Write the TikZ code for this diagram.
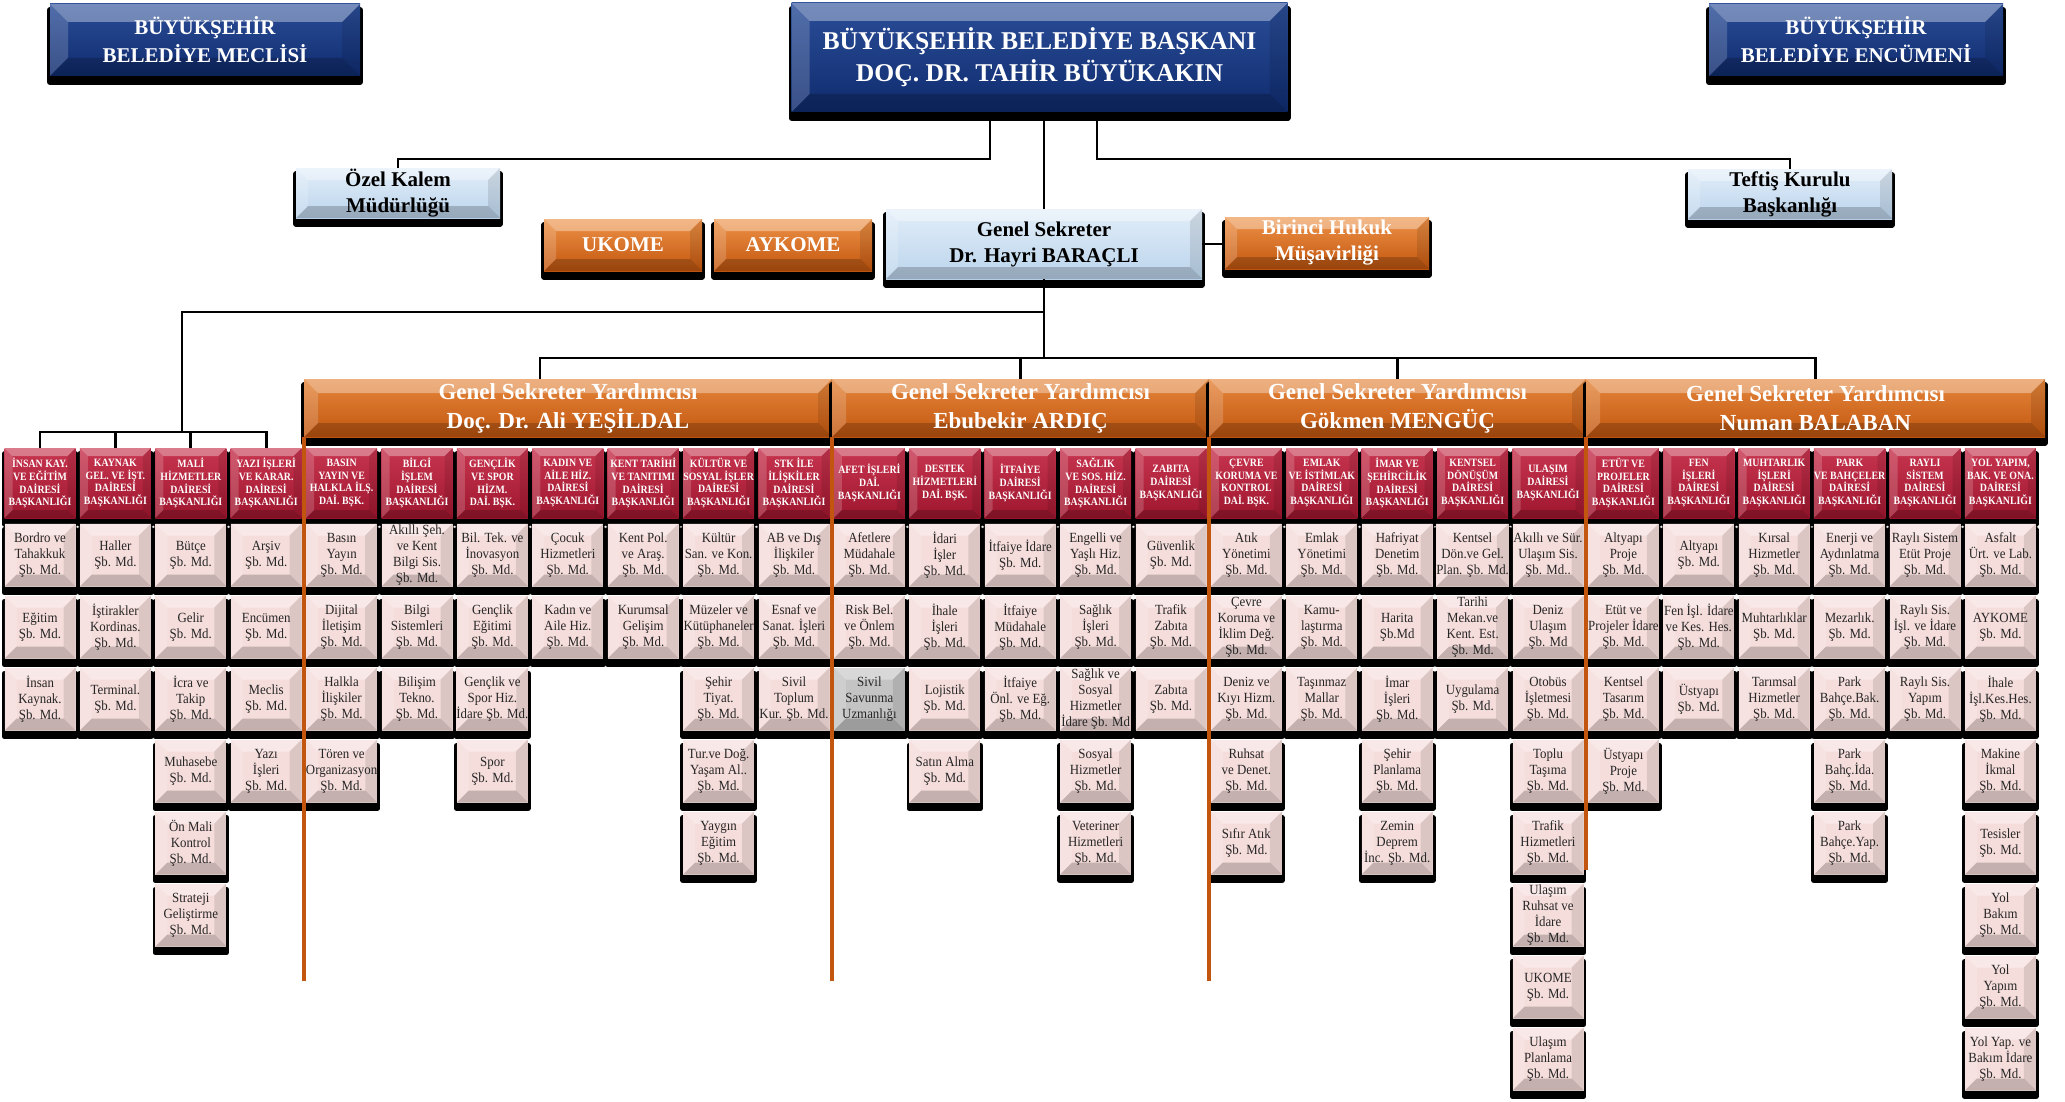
\documentclass[tikz,border=0pt]{standalone}
\usepackage{fontspec}
\setmainfont{Liberation Serif}
\newfontfamily\dairefont[FakeStretch=0.88]{Liberation Serif}
\newfontfamily\mdfont[FakeStretch=0.92]{Liberation Serif}

\definecolor{lacivert}{HTML}{0F2B6E}
\definecolor{lacivertacik}{HTML}{2B4E98}
\definecolor{turuncu}{HTML}{C2560F}
\definecolor{turuncuacik}{HTML}{EE9247}
\definecolor{mavi}{HTML}{BBD4EC}
\definecolor{maviacik}{HTML}{E2EEF9}
\definecolor{bordo}{HTML}{9E162E}
\definecolor{bordoacik}{HTML}{C8354F}
\definecolor{pembe}{HTML}{F5DDDB}
\definecolor{gri}{HTML}{C4C4C4}

\tikzset{
  kabartma/.style={path picture={
    \fill[white,opacity=.35] (path picture bounding box.north west) -- (path picture bounding box.north east)
      -- ([shift={(-#1,-#1)}]path picture bounding box.north east) -- ([shift={(#1,-#1)}]path picture bounding box.north west) -- cycle;
    \fill[white,opacity=.18] (path picture bounding box.north west) -- (path picture bounding box.south west)
      -- ([shift={(#1,#1)}]path picture bounding box.south west) -- ([shift={(#1,-#1)}]path picture bounding box.north west) -- cycle;
    \fill[black,opacity=.10] (path picture bounding box.north east) -- (path picture bounding box.south east)
      -- ([shift={(-#1,#1)}]path picture bounding box.south east) -- ([shift={(-#1,-#1)}]path picture bounding box.north east) -- cycle;
    \fill[black,opacity=.20] (path picture bounding box.south west) -- (path picture bounding box.south east)
      -- ([shift={(-#1,#1)}]path picture bounding box.south east) -- ([shift={(#1,#1)}]path picture bounding box.south west) -- cycle;
  }},
  golge/.style={preaction={draw=black,fill=black,line width=#1,line join=round,transform canvas={yshift=-3pt}}},
  ustkutu/.style={golge=3pt,kabartma=9pt,top color=lacivertacik,bottom color=lacivert,text=white,
    font=\bfseries\fontsize{10.5}{14}\selectfont,align=center,inner sep=0pt},
  mavikutu/.style={golge=2.6pt,kabartma=6pt,top color=maviacik,bottom color=mavi,text=black,
    font=\bfseries\fontsize{10.5}{13}\selectfont,align=center,inner sep=0pt,minimum width=102pt,minimum height=25pt},
  turkutu/.style={golge=2.6pt,kabartma=6pt,top color=turuncuacik,bottom color=turuncu,text=white,
    font=\bfseries\fontsize{10.5}{13}\selectfont,align=center,inner sep=0pt,minimum width=102pt,minimum height=26pt},
  yardimci/.style={golge=2.6pt,kabartma=7pt,top color=turuncuacik!80!turuncu,bottom color=turuncu,text=white,
    font=\bfseries\fontsize{11.5}{14.5}\selectfont,align=center,inner sep=0pt,minimum height=29pt},
  daire/.style={golge=2.8pt,kabartma=4pt,top color=bordoacik,bottom color=bordo,text=white,
    font=\dairefont\bfseries\fontsize{5.6}{6.4}\selectfont,align=center,inner sep=0pt,
    minimum width=35.5pt,minimum height=35pt,node distance=37.7pt},
  mudurluk/.style={golge=2.8pt,kabartma=6pt,fill=pembe,text=black!85,
    font=\mdfont\fontsize{7}{8}\selectfont,align=center,inner sep=0pt,
    minimum width=35.5pt,minimum height=31.5pt},
  grimudurluk/.style={mudurluk,fill=gri}
}

\begin{document}
\begin{tikzpicture}[x=0.5pt,y=-0.5pt,node distance=36pt,
    conn/.style={draw=black,line width=1.4pt},
    turuncucizgi/.style={draw=turuncu,line width=2pt}]
  \useasboundingbox (0,0) rectangle (2065,1102);

  % ust kademe
  \node[ustkutu,minimum width=155pt,minimum height=36pt] (meclis) at (205,40) {BÜYÜKŞEHİR\\BELEDİYE MECLİSİ};
  \node[ustkutu,font=\bfseries\fontsize{12.8}{16}\selectfont,minimum width=248pt,minimum height=54.5pt] (baskan) at (1039.5,57.5) {BÜYÜKŞEHİR BELEDİYE BAŞKANI\\DOÇ. DR. TAHİR BÜYÜKAKIN};
  \node[ustkutu,minimum width=147pt,minimum height=36pt] (encumen) at (1856,40) {BÜYÜKŞEHİR\\BELEDİYE ENCÜMENİ};
  \node[mavikutu] (ozel) at (398,193) {Özel Kalem\\Müdürlüğü};
  \node[mavikutu] (teftis) at (1790,194) {Teftiş Kurulu\\Başkanlığı};
  \node[turkutu,minimum width=79pt] (ukome) at (623,245) {UKOME};
  \node[turkutu,minimum width=79pt] (aykome) at (793,245) {AYKOME};
  \node[mavikutu,minimum width=158pt,minimum height=35pt] (gensek) at (1044,244) {Genel Sekreter\\Dr. Hayri BARAÇLI};
  \node[turkutu] (hukuk) at (1327,243) {Birinci Hukuk\\Müşavirliği};

  % genel sekreter yardimcilari
  \node[yardimci,minimum width=264pt] (gsy1) at (568,408) {Genel Sekreter Yardımcısı\\Doç. Dr. Ali YEŞİLDAL};
  \node[yardimci,minimum width=188.5pt] (gsy2) at (1020.5,408) {Genel Sekreter Yardımcısı\\Ebubekir ARDIÇ};
  \node[yardimci,minimum width=188.5pt] (gsy3) at (1397.5,408) {Genel Sekreter Yardımcısı\\Gökmen MENGÜÇ};
  \node[yardimci,minimum width=229.5pt] (gsy4) at (1815.5,408) {Genel Sekreter Yardımcısı\\Numan BALABAN};

  % daire baskanliklari
  \node[daire] (h1) at (40,483) {İNSAN KAY.\\VE EĞİTİM\\DAİRESİ\\BAŞKANLIĞI};
  \node[daire] (h2) [right of=h1] {KAYNAK\\GEL. VE İŞT.\\DAİRESİ\\BAŞKANLIĞI};
  \node[daire] (h3) [right of=h2] {MALİ\\HİZMETLER\\DAİRESİ\\BAŞKANLIĞI};
  \node[daire] (h4) [right of=h3] {YAZI İŞLERİ\\VE KARAR.\\DAİRESİ\\BAŞKANLIĞI};
  \node[daire] (h5) [right of=h4] {BASIN\\YAYIN VE\\HALKLA İLŞ.\\DAİ. BŞK.};
  \node[daire] (h6) [right of=h5] {BİLGİ\\İŞLEM\\DAİRESİ\\BAŞKANLIĞI};
  \node[daire] (h7) [right of=h6] {GENÇLİK\\VE SPOR\\HİZM.\\DAİ. BŞK.};
  \node[daire] (h8) [right of=h7] {KADIN VE\\AİLE HİZ.\\DAİRESİ\\BAŞKANLIĞI};
  \node[daire] (h9) [right of=h8] {KENT TARİHİ\\VE TANITIMI\\DAİRESİ\\BAŞKANLIĞI};
  \node[daire] (h10) [right of=h9] {KÜLTÜR VE\\SOSYAL İŞLER\\DAİRESİ\\BAŞKANLIĞI};
  \node[daire] (h11) [right of=h10] {STK İLE\\İLİŞKİLER\\DAİRESİ\\BAŞKANLIĞI};
  \node[daire] (h12) [right of=h11] {AFET İŞLERİ\\DAİ.\\BAŞKANLIĞI};
  \node[daire] (h13) [right of=h12] {DESTEK\\HİZMETLERİ\\DAİ. BŞK.};
  \node[daire] (h14) [right of=h13] {İTFAİYE\\DAİRESİ\\BAŞKANLIĞI};
  \node[daire] (h15) [right of=h14] {SAĞLIK\\VE SOS. HİZ.\\DAİRESİ\\BAŞKANLIĞI};
  \node[daire] (h16) [right of=h15] {ZABITA\\DAİRESİ\\BAŞKANLIĞI};
  \node[daire] (h17) [right of=h16] {ÇEVRE\\KORUMA VE\\KONTROL\\DAİ. BŞK.};
  \node[daire] (h18) [right of=h17] {EMLAK\\VE İSTİMLAK\\DAİRESİ\\BAŞKANLIĞI};
  \node[daire] (h19) [right of=h18] {İMAR VE\\ŞEHİRCİLİK\\DAİRESİ\\BAŞKANLIĞI};
  \node[daire] (h20) [right of=h19] {KENTSEL\\DÖNÜŞÜM\\DAİRESİ\\BAŞKANLIĞI};
  \node[daire] (h21) [right of=h20] {ULAŞIM\\DAİRESİ\\BAŞKANLIĞI};
  \node[daire] (h22) [right of=h21] {ETÜT VE\\PROJELER\\DAİRESİ\\BAŞKANLIĞI};
  \node[daire] (h23) [right of=h22] {FEN\\İŞLERİ\\DAİRESİ\\BAŞKANLIĞI};
  \node[daire] (h24) [right of=h23] {MUHTARLIK\\İŞLERİ\\DAİRESİ\\BAŞKANLIĞI};
  \node[daire] (h25) [right of=h24] {PARK\\VE BAHÇELER\\DAİRESİ\\BAŞKANLIĞI};
  \node[daire] (h26) [right of=h25] {RAYLI\\SİSTEM\\DAİRESİ\\BAŞKANLIĞI};
  \node[daire] (h27) [right of=h26] {YOL YAPIM,\\BAK. VE ONA.\\DAİRESİ\\BAŞKANLIĞI};

  % sube mudurlukleri
  \node[mudurluk] (m1-1) [below of=h1] {Bordro ve\\Tahakkuk\\Şb. Md.};
  \node[mudurluk] (m1-2) [below of=m1-1] {Eğitim\\Şb. Md.};
  \node[mudurluk] (m1-3) [below of=m1-2] {İnsan\\Kaynak.\\Şb. Md.};

  \node[mudurluk] (m2-1) [below of=h2] {Haller\\Şb. Md.};
  \node[mudurluk] (m2-2) [below of=m2-1] {İştirakler\\Kordinas.\\Şb. Md.};
  \node[mudurluk] (m2-3) [below of=m2-2] {Terminal.\\Şb. Md.};

  \node[mudurluk] (m3-1) [below of=h3] {Bütçe\\Şb. Md.};
  \node[mudurluk] (m3-2) [below of=m3-1] {Gelir\\Şb. Md.};
  \node[mudurluk] (m3-3) [below of=m3-2] {İcra ve\\Takip\\Şb. Md.};
  \node[mudurluk] (m3-4) [below of=m3-3] {Muhasebe\\Şb. Md.};
  \node[mudurluk] (m3-5) [below of=m3-4] {Ön Mali\\Kontrol\\Şb. Md.};
  \node[mudurluk] (m3-6) [below of=m3-5] {Strateji\\Geliştirme\\Şb. Md.};

  \node[mudurluk] (m4-1) [below of=h4] {Arşiv\\Şb. Md.};
  \node[mudurluk] (m4-2) [below of=m4-1] {Encümen\\Şb. Md.};
  \node[mudurluk] (m4-3) [below of=m4-2] {Meclis\\Şb. Md.};
  \node[mudurluk] (m4-4) [below of=m4-3] {Yazı\\İşleri\\Şb. Md.};

  \node[mudurluk] (m5-1) [below of=h5] {Basın\\Yayın\\Şb. Md.};
  \node[mudurluk] (m5-2) [below of=m5-1] {Dijital\\İletişim\\Şb. Md.};
  \node[mudurluk] (m5-3) [below of=m5-2] {Halkla\\İlişkiler\\Şb. Md.};
  \node[mudurluk] (m5-4) [below of=m5-3] {Tören ve\\Organizasyon\\Şb. Md.};

  \node[mudurluk] (m6-1) [below of=h6] {Akıllı Şeh.\\ve Kent\\Bilgi Sis.\\Şb. Md.};
  \node[mudurluk] (m6-2) [below of=m6-1] {Bilgi\\Sistemleri\\Şb. Md.};
  \node[mudurluk] (m6-3) [below of=m6-2] {Bilişim\\Tekno.\\Şb. Md.};

  \node[mudurluk] (m7-1) [below of=h7] {Bil. Tek. ve\\İnovasyon\\Şb. Md.};
  \node[mudurluk] (m7-2) [below of=m7-1] {Gençlik\\Eğitimi\\Şb. Md.};
  \node[mudurluk] (m7-3) [below of=m7-2] {Gençlik ve\\Spor Hiz.\\İdare Şb. Md.};
  \node[mudurluk] (m7-4) [below of=m7-3] {Spor\\Şb. Md.};

  \node[mudurluk] (m8-1) [below of=h8] {Çocuk\\Hizmetleri\\Şb. Md.};
  \node[mudurluk] (m8-2) [below of=m8-1] {Kadın ve\\Aile Hiz.\\Şb. Md.};

  \node[mudurluk] (m9-1) [below of=h9] {Kent Pol.\\ve Araş.\\Şb. Md.};
  \node[mudurluk] (m9-2) [below of=m9-1] {Kurumsal\\Gelişim\\Şb. Md.};

  \node[mudurluk] (m10-1) [below of=h10] {Kültür\\San. ve Kon.\\Şb. Md.};
  \node[mudurluk] (m10-2) [below of=m10-1] {Müzeler ve\\Kütüphaneler\\Şb. Md.};
  \node[mudurluk] (m10-3) [below of=m10-2] {Şehir\\Tiyat.\\Şb. Md.};
  \node[mudurluk] (m10-4) [below of=m10-3] {Tur.ve Doğ.\\Yaşam Al..\\Şb. Md.};
  \node[mudurluk] (m10-5) [below of=m10-4] {Yaygın\\Eğitim\\Şb. Md.};

  \node[mudurluk] (m11-1) [below of=h11] {AB ve Dış\\İlişkiler\\Şb. Md.};
  \node[mudurluk] (m11-2) [below of=m11-1] {Esnaf ve\\Sanat. İşleri\\Şb. Md.};
  \node[mudurluk] (m11-3) [below of=m11-2] {Sivil\\Toplum\\Kur. Şb. Md.};

  \node[mudurluk] (m12-1) [below of=h12] {Afetlere\\Müdahale\\Şb. Md.};
  \node[mudurluk] (m12-2) [below of=m12-1] {Risk Bel.\\ve Önlem\\Şb. Md.};
  \node[grimudurluk] (m12-3) [below of=m12-2] {Sivil\\Savunma\\Uzmanlığı};

  \node[mudurluk] (m13-1) [below of=h13] {İdari\\İşler\\Şb. Md.};
  \node[mudurluk] (m13-2) [below of=m13-1] {İhale\\İşleri\\Şb. Md.};
  \node[mudurluk] (m13-3) [below of=m13-2] {Lojistik\\Şb. Md.};
  \node[mudurluk] (m13-4) [below of=m13-3] {Satın Alma\\Şb. Md.};

  \node[mudurluk] (m14-1) [below of=h14] {İtfaiye İdare\\Şb. Md.};
  \node[mudurluk] (m14-2) [below of=m14-1] {İtfaiye\\Müdahale\\Şb. Md.};
  \node[mudurluk] (m14-3) [below of=m14-2] {İtfaiye\\Önl. ve Eğ.\\Şb. Md.};

  \node[mudurluk] (m15-1) [below of=h15] {Engelli ve\\Yaşlı Hiz.\\Şb. Md.};
  \node[mudurluk] (m15-2) [below of=m15-1] {Sağlık\\İşleri\\Şb. Md.};
  \node[mudurluk] (m15-3) [below of=m15-2] {Sağlık ve\\Sosyal\\Hizmetler\\İdare Şb. Md};
  \node[mudurluk] (m15-4) [below of=m15-3] {Sosyal\\Hizmetler\\Şb. Md.};
  \node[mudurluk] (m15-5) [below of=m15-4] {Veteriner\\Hizmetleri\\Şb. Md.};

  \node[mudurluk] (m16-1) [below of=h16] {Güvenlik\\Şb. Md.};
  \node[mudurluk] (m16-2) [below of=m16-1] {Trafik\\Zabıta\\Şb. Md.};
  \node[mudurluk] (m16-3) [below of=m16-2] {Zabıta\\Şb. Md.};

  \node[mudurluk] (m17-1) [below of=h17] {Atık\\Yönetimi\\Şb. Md.};
  \node[mudurluk] (m17-2) [below of=m17-1] {Çevre\\Koruma ve\\İklim Değ.\\Şb. Md.};
  \node[mudurluk] (m17-3) [below of=m17-2] {Deniz ve\\Kıyı Hizm.\\Şb. Md.};
  \node[mudurluk] (m17-4) [below of=m17-3] {Ruhsat\\ve Denet.\\Şb. Md.};
  \node[mudurluk] (m17-5) [below of=m17-4] {Sıfır Atık\\Şb. Md.};

  \node[mudurluk] (m18-1) [below of=h18] {Emlak\\Yönetimi\\Şb. Md.};
  \node[mudurluk] (m18-2) [below of=m18-1] {Kamu-\\laştırma\\Şb. Md.};
  \node[mudurluk] (m18-3) [below of=m18-2] {Taşınmaz\\Mallar\\Şb. Md.};

  \node[mudurluk] (m19-1) [below of=h19] {Hafriyat\\Denetim\\Şb. Md.};
  \node[mudurluk] (m19-2) [below of=m19-1] {Harita\\Şb.Md};
  \node[mudurluk] (m19-3) [below of=m19-2] {İmar\\İşleri\\Şb. Md.};
  \node[mudurluk] (m19-4) [below of=m19-3] {Şehir\\Planlama\\Şb. Md.};
  \node[mudurluk] (m19-5) [below of=m19-4] {Zemin\\Deprem\\İnc. Şb. Md.};

  \node[mudurluk] (m20-1) [below of=h20] {Kentsel\\Dön.ve Gel.\\Plan. Şb. Md.};
  \node[mudurluk] (m20-2) [below of=m20-1] {Tarihi\\Mekan.ve\\Kent. Est.\\Şb. Md.};
  \node[mudurluk] (m20-3) [below of=m20-2] {Uygulama\\Şb. Md.};

  \node[mudurluk] (m21-1) [below of=h21] {Akıllı ve Sür.\\Ulaşım Sis.\\Şb. Md..};
  \node[mudurluk] (m21-2) [below of=m21-1] {Deniz\\Ulaşım\\Şb. Md};
  \node[mudurluk] (m21-3) [below of=m21-2] {Otobüs\\İşletmesi\\Şb. Md.};
  \node[mudurluk] (m21-4) [below of=m21-3] {Toplu\\Taşıma\\Şb. Md.};
  \node[mudurluk] (m21-5) [below of=m21-4] {Trafik\\Hizmetleri\\Şb. Md.};
  \node[mudurluk] (m21-6) [below of=m21-5] {Ulaşım\\Ruhsat ve\\İdare\\Şb. Md.};
  \node[mudurluk] (m21-7) [below of=m21-6] {UKOME\\Şb. Md.};
  \node[mudurluk] (m21-8) [below of=m21-7] {Ulaşım\\Planlama\\Şb. Md.};

  \node[mudurluk] (m22-1) [below of=h22] {Altyapı\\Proje\\Şb. Md.};
  \node[mudurluk] (m22-2) [below of=m22-1] {Etüt ve\\Projeler İdare\\Şb. Md.};
  \node[mudurluk] (m22-3) [below of=m22-2] {Kentsel\\Tasarım\\Şb. Md.};
  \node[mudurluk] (m22-4) [below of=m22-3] {Üstyapı\\Proje\\Şb. Md.};

  \node[mudurluk] (m23-1) [below of=h23] {Altyapı\\Şb. Md.};
  \node[mudurluk] (m23-2) [below of=m23-1] {Fen İşl. İdare\\ve Kes. Hes.\\Şb. Md.};
  \node[mudurluk] (m23-3) [below of=m23-2] {Üstyapı\\Şb. Md.};

  \node[mudurluk] (m24-1) [below of=h24] {Kırsal\\Hizmetler\\Şb. Md.};
  \node[mudurluk] (m24-2) [below of=m24-1] {Muhtarlıklar\\Şb. Md.};
  \node[mudurluk] (m24-3) [below of=m24-2] {Tarımsal\\Hizmetler\\Şb. Md.};

  \node[mudurluk] (m25-1) [below of=h25] {Enerji ve\\Aydınlatma\\Şb. Md.};
  \node[mudurluk] (m25-2) [below of=m25-1] {Mezarlık.\\Şb. Md.};
  \node[mudurluk] (m25-3) [below of=m25-2] {Park\\Bahçe.Bak.\\Şb. Md.};
  \node[mudurluk] (m25-4) [below of=m25-3] {Park\\Bahç.İda.\\Şb. Md.};
  \node[mudurluk] (m25-5) [below of=m25-4] {Park\\Bahçe.Yap.\\Şb. Md.};

  \node[mudurluk] (m26-1) [below of=h26] {Raylı Sistem\\Etüt Proje\\Şb. Md.};
  \node[mudurluk] (m26-2) [below of=m26-1] {Raylı Sis.\\İşl. ve İdare\\Şb. Md.};
  \node[mudurluk] (m26-3) [below of=m26-2] {Raylı Sis.\\Yapım\\Şb. Md.};

  \node[mudurluk] (m27-1) [below of=h27] {Asfalt\\Ürt. ve Lab.\\Şb. Md.};
  \node[mudurluk] (m27-2) [below of=m27-1] {AYKOME\\Şb. Md.};
  \node[mudurluk] (m27-3) [below of=m27-2] {İhale\\İşl.Kes.Hes.\\Şb. Md.};
  \node[mudurluk] (m27-4) [below of=m27-3] {Makine\\İkmal\\Şb. Md.};
  \node[mudurluk] (m27-5) [below of=m27-4] {Tesisler\\Şb. Md.};
  \node[mudurluk] (m27-6) [below of=m27-5] {Yol\\Bakım\\Şb. Md.};
  \node[mudurluk] (m27-7) [below of=m27-6] {Yol\\Yapım\\Şb. Md.};
  \node[mudurluk] (m27-8) [below of=m27-7] {Yol Yap. ve\\Bakım İdare\\Şb. Md.};

  % baglantilar
  \coordinate (kalem) at (990,159);
  \coordinate (teftisyol) at (1097,159);
  \coordinate (solbus) at (182,312);
  \coordinate (solalt) at (182,432);
  \coordinate (gsybus) at (540,358);
  \coordinate (alt) at (0,981);
  \coordinate (alt2) at (0,870);

  \draw[conn] (baskan.south -| kalem) -- (kalem) -| (ozel.north);
  \draw[conn] (baskan.south -| teftisyol) -- (teftisyol) -| (teftis.north);
  \draw[conn] (baskan.south -| gensek.north) -- (gensek.north);
  \draw[conn] (gensek.east) -- (hukuk.west |- gensek.east);
  \draw[conn] (gensek.south) |- (solbus) -- (solalt);
  \draw[conn] (solalt) -| (h1.north);
  \draw[conn] (solalt) -| (h2.north);
  \draw[conn] (solalt) -| (h3.north);
  \draw[conn] (solalt) -| (h4.north);
  \draw[conn] (gensek.south) -- (gensek.south |- gsybus);
  \draw[conn] (gsybus |- gsy1.north) -- (gsybus) -| (gsy4.north);
  \draw[conn] (gsy2.north |- gsybus) -- (gsy2.north);
  \draw[conn] (gsy3.north |- gsybus) -- (gsy3.north);

  \draw[turuncucizgi] (gsy1.south west) -- (gsy1.south west |- alt);
  \draw[turuncucizgi] (gsy2.south west) -- (gsy2.south west |- alt);
  \draw[turuncucizgi] (gsy3.south west) -- (gsy3.south west |- alt);
  \draw[turuncucizgi] (gsy4.south west) -- (gsy4.south west |- alt2);
\end{tikzpicture}
\end{document}
